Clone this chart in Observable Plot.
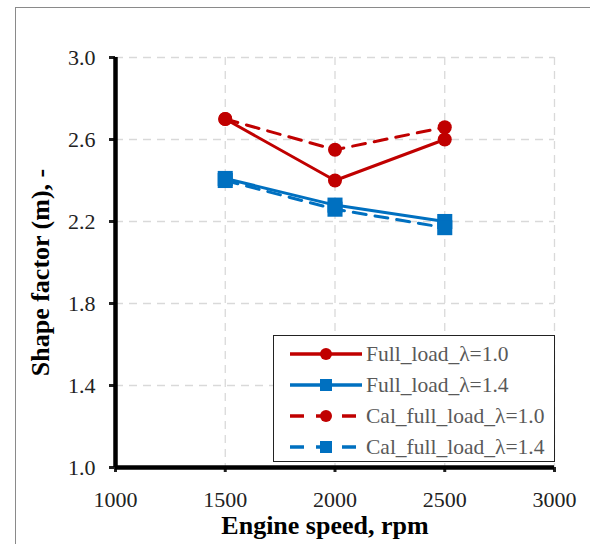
<!DOCTYPE html>
<html>
<head>
<meta charset="utf-8">
<script src="https://cdn.jsdelivr.net/npm/d3@7"></script>
<script src="https://cdn.jsdelivr.net/npm/@observablehq/plot@0.6"></script>
<style>
  body { margin: 0; background: #fff; }
  #wrap { position: relative; width: 590px; height: 544px; overflow: hidden; font-family: "Liberation Serif", "DejaVu Serif", serif; }
  #chart svg, #chart svg text { font-family: "Liberation Serif", "DejaVu Serif", serif !important; }
  #border { position: absolute; left: 15px; top: 7px; width: 700px; height: 700px; border: 1.5px solid #8a8a8a; pointer-events: none; }
  #legend { position: absolute; left: 273px; top: 335px; width: 282px; height: 127px; border: 1.5px solid #222; background: #fff; box-sizing: border-box; }
  #legend .row { position: absolute; left: 0; height: 28px; display: flex; align-items: center; }
  #legend .row span { font-family: "Liberation Serif", "DejaVu Serif", serif; font-size: 21.5px; color: #595959; margin-left: 2px; white-space: nowrap; }
</style>
</head>
<body>
<div id="wrap">
  <div id="chart"></div>
  <div id="legend"></div>
  <div id="border"></div>
</div>
<script>
// ---- data ----
const speeds = [1500, 2000, 2500];
const seriesNames = ["Full_load_λ=1.0", "Full_load_λ=1.4", "Cal_full_load_λ=1.0", "Cal_full_load_λ=1.4"];
const fullLambda10 = [2.70, 2.40, 2.60];
const fullLambda14 = [2.41, 2.28, 2.20];
const calLambda10 = [2.70, 2.55, 2.66];
const calLambda14 = [2.40, 2.26, 2.17];
const xTicks = [1000, 1500, 2000, 2500, 3000];
const yTicks = [1.0, 1.4, 1.8, 2.2, 2.6, 3.0];

// ---- styles ----
const FONT = "'Liberation Serif', 'DejaVu Serif', serif";
const RED = "#C00000", BLUE = "#0070C0";
const seriesDefs = [
  { name: seriesNames[0], values: fullLambda10, color: RED, dash: null, symbol: "circle", r: 7 },
  { name: seriesNames[1], values: fullLambda14, color: BLUE, dash: null, symbol: "square", r: 8.5 },
  { name: seriesNames[2], values: calLambda10, color: RED, dash: "13,9", symbol: "circle", r: 7 },
  { name: seriesNames[3], values: calLambda14, color: BLUE, dash: "13,9", symbol: "square", r: 8.5 }
];

const marks = [
  Plot.gridX(xTicks.slice(1), { stroke: "#d9d9d9", strokeOpacity: 1, strokeWidth: 1.3, strokeDasharray: "8,6" }),
  Plot.gridY(yTicks.slice(1), { stroke: "#d9d9d9", strokeOpacity: 1, strokeWidth: 1.3, strokeDasharray: "8,6" })
];
for (const s of seriesDefs) {
  const data = speeds.map((x, i) => ({ x, y: s.values[i] }));
  marks.push(Plot.line(data, { x: "x", y: "y", stroke: s.color, strokeWidth: 3, strokeDasharray: s.dash }));
  marks.push(Plot.dot(data, { x: "x", y: "y", fill: s.color, stroke: "none", symbol: s.symbol, r: s.r }));
}
marks.push(
  Plot.axisX({ ticks: xTicks, tickFormat: d => String(d), tickSize: 5, strokeWidth: 3, tickPadding: 19, fontSize: 22, fontFamily: FONT, label: null, color: "#222" }),
  Plot.axisY({ ticks: yTicks, tickFormat: d => d.toFixed(1), tickSize: 6, strokeWidth: 3, tickPadding: 14, fontSize: 22, fontFamily: FONT, label: null, color: "#222" }),
  Plot.ruleX([1000], { stroke: "#000", strokeWidth: 4.5 }),
  Plot.ruleY([1.0], { stroke: "#000", strokeWidth: 4.5 }),
  Plot.text(["Shape factor (m), -"], { frameAnchor: "left", textAnchor: "middle", dx: -75, dy: 10, rotate: -90, fontSize: 26, fontWeight: "bold", fontFamily: FONT, fill: "#000" }),
  Plot.text(["Engine speed, rpm"], { frameAnchor: "bottom", dx: -10, dy: 66, fontSize: 26, fontWeight: "bold", fontFamily: FONT, fill: "#000" })
);

const chart = Plot.plot({
  width: 590,
  height: 544,
  marginLeft: 115,
  marginRight: 36,
  marginTop: 57,
  marginBottom: 77,
  style: { fontFamily: FONT, background: "transparent", overflow: "visible" },
  x: { domain: [1000, 3000] },
  y: { domain: [1.0, 3.0] },
  marks
});
document.getElementById("chart").appendChild(chart);

// ---- legend ----
const legend = document.getElementById("legend");
const rowTops = [4, 35, 66, 97];
seriesDefs.forEach((s, i) => {
  const row = document.createElement("div");
  row.className = "row";
  row.style.top = rowTops[i] + "px";
  row.style.left = "14px";
  const sw = d3.create("svg").attr("width", 76).attr("height", 28);
  sw.append("line").attr("x1", 2).attr("x2", 74).attr("y1", 14).attr("y2", 14)
    .attr("stroke", s.color).attr("stroke-width", 3.5)
    .attr("stroke-dasharray", s.dash ? "14,12" : null);
  if (s.symbol === "circle") {
    sw.append("circle").attr("cx", 38).attr("cy", 14).attr("r", 6).attr("fill", s.color);
  } else {
    sw.append("rect").attr("x", 32).attr("y", 8).attr("width", 12).attr("height", 12).attr("fill", s.color);
  }
  row.appendChild(sw.node());
  const t = document.createElement("span");
  t.textContent = s.name;
  row.appendChild(t);
  legend.appendChild(row);
});
</script>
</body>
</html>
